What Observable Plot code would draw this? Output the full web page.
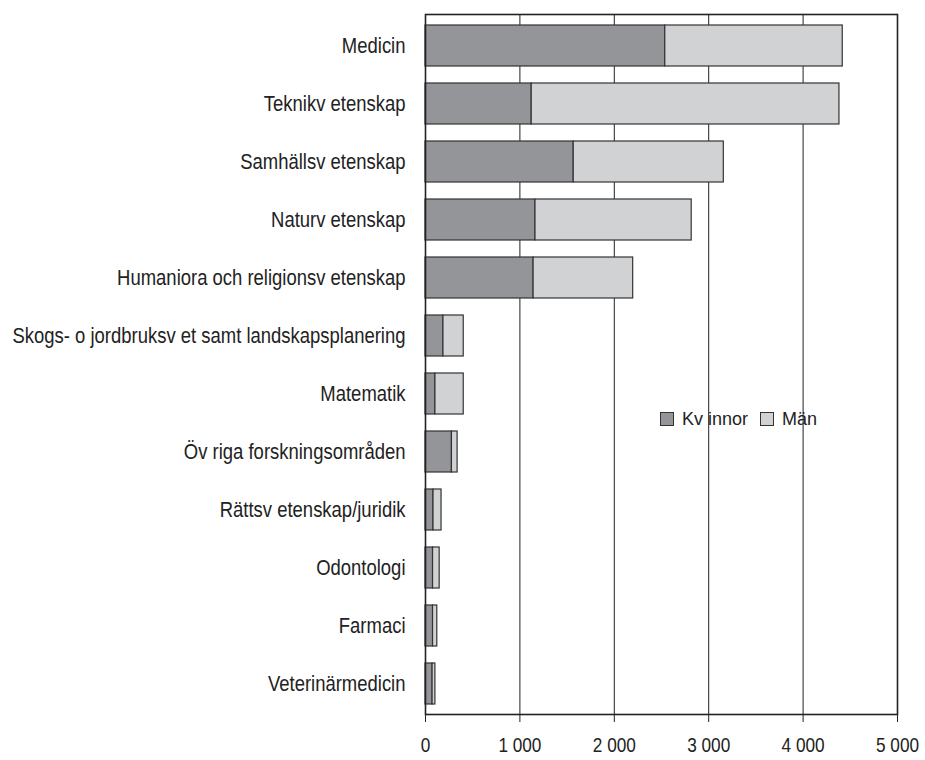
<!DOCTYPE html>
<html><head><meta charset="utf-8">
<script src="https://cdn.jsdelivr.net/npm/d3@7"></script>
<script src="https://cdn.jsdelivr.net/npm/@observablehq/plot@0.6"></script>
<style>
body{margin:0;background:#fff;font-family:"Liberation Sans",Arial,sans-serif;}
#wrap{position:relative;width:925px;height:760px;}
.legend{position:absolute;left:660px;top:408px;height:22px;display:flex;align-items:center;font-size:18px;color:#222;white-space:pre;}
.sw{width:12px;height:12px;border:1px solid #333;display:inline-block;margin-right:8px;}
</style></head><body><div id="wrap"></div>
<script>
const categories = [
  "Medicin",
  "Teknikv etenskap",
  "Samhällsv etenskap",
  "Naturv etenskap",
  "Humaniora och religionsv etenskap",
  "Skogs- o jordbruksv et samt landskapsplanering",
  "Matematik",
  "Öv riga forskningsområden",
  "Rättsv etenskap/juridik",
  "Odontologi",
  "Farmaci",
  "Veterinärmedicin"
];
const women = [2540, 1125, 1570, 1165, 1145, 190, 105, 280, 85, 80, 80, 75];
const men   = [1880, 3260, 1590, 1655, 1055, 215, 300, 60, 85, 70, 45, 30];
const seriesNames = ["Kv innor", "Män"];
const seriesColors = ["#939598", "#d1d2d4"];
const xTicks = [0, 1000, 2000, 3000, 4000, 5000];
const gridTicks = [1000, 2000, 3000, 4000];

const rows = [];
categories.forEach((c, i) => {
  rows.push({cat: c, sex: seriesNames[0], value: women[i]});
  rows.push({cat: c, sex: seriesNames[1], value: men[i]});
});

const fmt = d => d3.format(",")(d).replace(/,/g, " ");

const chart = Plot.plot({
  width: 925,
  height: 760,
  marginLeft: 425,
  marginRight: 28,
  marginTop: 14,
  marginBottom: 46,
  style: {fontFamily: "'Liberation Sans', Arial, sans-serif", fontSize: "18px", color: "#222", background: "#fff"},
  x: {domain: [0, 5000]},
  y: {domain: categories, paddingInner: 0.3, paddingOuter: 0.15},
  color: {domain: seriesNames, range: seriesColors},
  marks: [
    Plot.ruleX(gridTicks, {stroke: "#222", strokeWidth: 1}),
    Plot.barX(rows, {x: "value", y: "cat", fill: "sex", stroke: "#333", strokeWidth: 1.2, inset: 0}),
    Plot.frame({stroke: "#222", strokeWidth: 1.6}),
    Plot.axisY({tickSize: 0, tickPadding: 20, label: null, fontSize: 22}),
    Plot.axisX({ticks: xTicks, tickSize: 8, tickPadding: 15, tickFormat: fmt, label: null, stroke: "#222", fontSize: 21})
  ]
});

// condense axis label text horizontally (tall, narrow face as in the reference)
function condense(selector, s) {
  chart.querySelectorAll(selector).forEach(t => {
    const tr = t.getAttribute("transform");
    if (tr) {
      t.setAttribute("transform", tr + ` scale(${s},1)`);
    } else {
      const x = +(t.getAttribute("x") || 0), y = +(t.getAttribute("y") || 0);
      t.removeAttribute("x"); t.removeAttribute("y");
      t.setAttribute("transform", `translate(${x},${y}) scale(${s},1)`);
    }
  });
}
condense('g[aria-label="y-axis tick label"] text', 0.84);
condense('g[aria-label="x-axis tick label"] text', 0.82);

const wrap = document.getElementById("wrap");
wrap.appendChild(chart);
const leg = document.createElement("div");
leg.className = "legend";
seriesNames.forEach((n, i) => {
  const sw = document.createElement("span");
  sw.className = "sw";
  sw.style.background = seriesColors[i];
  leg.appendChild(sw);
  const t = document.createElement("span");
  t.textContent = n;
  t.style.marginRight = i === 0 ? "12px" : "0";
  leg.appendChild(t);
});
wrap.appendChild(leg);
</script>
</body></html>
